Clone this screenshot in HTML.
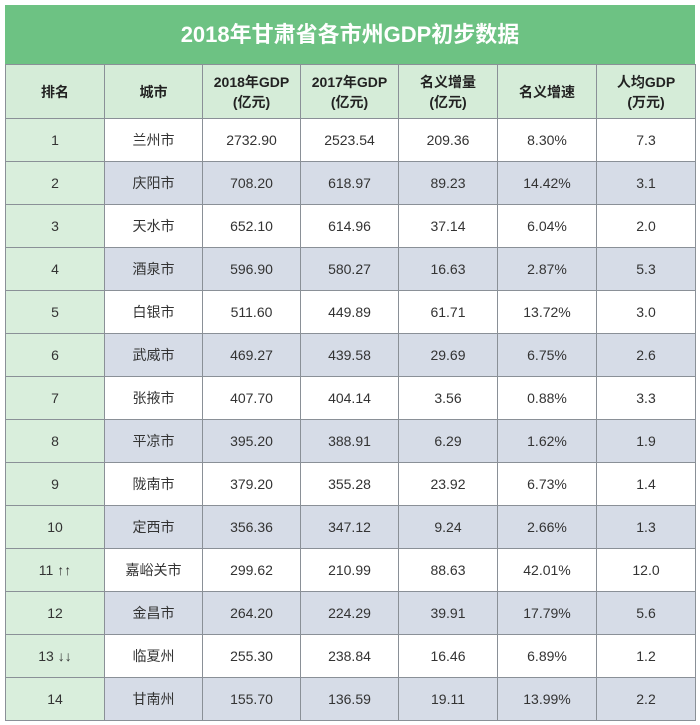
<!DOCTYPE html>
<html><head><meta charset="utf-8"><style>
body{margin:0;width:700px;height:725px;background:#fff;font-family:"Liberation Sans","Noto Sans CJK SC",sans-serif;}
.wrap{position:absolute;left:5px;top:5px;width:690px;}
.title{height:59px;background:#6dc283;color:#fff;font-weight:bold;font-size:22px;text-align:center;line-height:59px;}
table{border-collapse:collapse;width:690px;table-layout:fixed;}
td{border:1px solid #8a9097;text-align:center;vertical-align:middle;font-size:14px;line-height:16px;color:#333;height:42px;padding:0;}
tr.h td{height:53px;background:#d5ecd8;font-weight:bold;color:#222;font-size:14px;line-height:20px;}
td.r{background:#d9eedc;}
tr.e td{background:#d6dce7;}
tr.e td.r{background:#d9eedc;}
</style></head><body><div class="wrap">
<div class="title">2018年甘肃省各市州GDP初步数据</div>
<table>
<colgroup><col style="width:99px"><col style="width:98px"><col style="width:98px"><col style="width:98px"><col style="width:99px"><col style="width:99px"><col style="width:99px"></colgroup>
<tr class="h"><td>排名</td><td>城市</td><td>2018年GDP<br>(亿元)</td><td>2017年GDP<br>(亿元)</td><td>名义增量<br>(亿元)</td><td>名义增速</td><td>人均GDP<br>(万元)</td></tr>
<tr><td class="r">1</td><td>兰州市</td><td>2732.90</td><td>2523.54</td><td>209.36</td><td>8.30%</td><td>7.3</td></tr>
<tr class="e"><td class="r">2</td><td>庆阳市</td><td>708.20</td><td>618.97</td><td>89.23</td><td>14.42%</td><td>3.1</td></tr>
<tr><td class="r">3</td><td>天水市</td><td>652.10</td><td>614.96</td><td>37.14</td><td>6.04%</td><td>2.0</td></tr>
<tr class="e"><td class="r">4</td><td>酒泉市</td><td>596.90</td><td>580.27</td><td>16.63</td><td>2.87%</td><td>5.3</td></tr>
<tr><td class="r">5</td><td>白银市</td><td>511.60</td><td>449.89</td><td>61.71</td><td>13.72%</td><td>3.0</td></tr>
<tr class="e"><td class="r">6</td><td>武威市</td><td>469.27</td><td>439.58</td><td>29.69</td><td>6.75%</td><td>2.6</td></tr>
<tr><td class="r">7</td><td>张掖市</td><td>407.70</td><td>404.14</td><td>3.56</td><td>0.88%</td><td>3.3</td></tr>
<tr class="e"><td class="r">8</td><td>平凉市</td><td>395.20</td><td>388.91</td><td>6.29</td><td>1.62%</td><td>1.9</td></tr>
<tr><td class="r">9</td><td>陇南市</td><td>379.20</td><td>355.28</td><td>23.92</td><td>6.73%</td><td>1.4</td></tr>
<tr class="e"><td class="r">10</td><td>定西市</td><td>356.36</td><td>347.12</td><td>9.24</td><td>2.66%</td><td>1.3</td></tr>
<tr><td class="r">11 ↑↑</td><td>嘉峪关市</td><td>299.62</td><td>210.99</td><td>88.63</td><td>42.01%</td><td>12.0</td></tr>
<tr class="e"><td class="r">12</td><td>金昌市</td><td>264.20</td><td>224.29</td><td>39.91</td><td>17.79%</td><td>5.6</td></tr>
<tr><td class="r">13 ↓↓</td><td>临夏州</td><td>255.30</td><td>238.84</td><td>16.46</td><td>6.89%</td><td>1.2</td></tr>
<tr class="e"><td class="r">14</td><td>甘南州</td><td>155.70</td><td>136.59</td><td>19.11</td><td>13.99%</td><td>2.2</td></tr>
</table></div></body></html>
